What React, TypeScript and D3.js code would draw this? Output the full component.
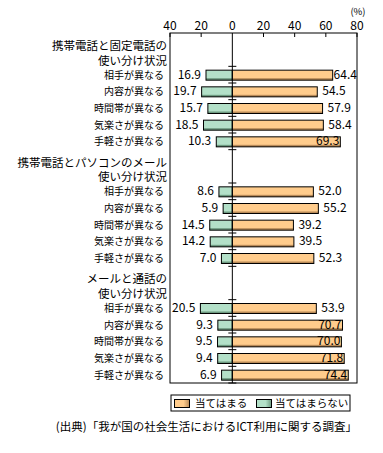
import React from "react";
import * as d3 from "d3";

const groupTitles: string[][] = [
  ["携帯電話と固定電話の", "使い分け状況"],
  ["携帯電話とパソコンのメール", "使い分け状況"],
  ["メールと通話の", "使い分け状況"],
];
const categories = ["相手が異なる", "内容が異なる", "時間帯が異なる", "気楽さが異なる", "手軽さが異なる"];
const applies: number[][] = [
  [64.4, 54.5, 57.9, 58.4, 69.3],
  [52.0, 55.2, 39.2, 39.5, 52.3],
  [53.9, 70.7, 70.0, 71.8, 74.4],
];
const notApplies: number[][] = [
  [16.9, 19.7, 15.7, 18.5, 10.3],
  [8.6, 5.9, 14.5, 14.2, 7.0],
  [20.5, 9.3, 9.5, 9.4, 6.9],
];
const xTicks = [-40, -20, 0, 20, 40, 60, 80];
const legendLabels = ["当てはまる", "当てはまらない"];
const unitLabel = "(%)";
const sourceText = "(出典)「我が国の社会生活におけるICT利用に関する調査」";

const FONT = "'Noto Sans CJK JP', 'Noto Sans', sans-serif";
const ORANGE = "#FFCC8C";
const ORANGE_DARK = "#B88A58";
const GREEN = "#B3E0C8";
const GREEN_DARK = "#6E9A80";

type Slot = { key: string; type: "h" | "b"; g: number; i: number };

export default function App() {
  const W = 383, H = 453;
  const left = 170, right = 357, top = 33, bottom = 383;

  const slots: Slot[] = [];
  groupTitles.forEach((_, g) => {
    slots.push({ key: `h${g}a`, type: "h", g, i: 0 });
    slots.push({ key: `h${g}b`, type: "h", g, i: 1 });
    categories.forEach((c, i) => slots.push({ key: `b${g}-${i}`, type: "b", g, i }));
  });

  const x = d3.scaleLinear().domain([-40, 80]).range([left, right]);
  const y = d3.scaleBand<string>().domain(slots.map((s) => s.key)).range([top, bottom]).paddingInner(0).paddingOuter(0);
  const bw = y.bandwidth();
  const barH = 10;
  const x0 = x(0);

  const charW = (s: string, fs: number) => s.length * fs * 0.56 - (s.includes(".") ? fs * 0.29 : 0);

  const boundaryTicks: number[] = [];
  slots.forEach((s) => {
    if (s.type === "b") {
      boundaryTicks.push(y(s.key)!);
      if (s.i === categories.length - 1) boundaryTicks.push(y(s.key)! + bw);
    }
  });

  return (
    <svg width={W} height={H} style={{ position: "absolute", left: 0, top: 0, background: "#fff" }} fontFamily={FONT}>
      <defs>
        <linearGradient id="gOr" x1="0" x2="1" y1="0" y2="0">
          <stop offset="0" stopColor={ORANGE} />
          <stop offset="0.6" stopColor={ORANGE} />
          <stop offset="1" stopColor={ORANGE_DARK} />
        </linearGradient>
        <linearGradient id="gGr" x1="0" x2="1" y1="0" y2="0">
          <stop offset="0" stopColor={GREEN} />
          <stop offset="0.6" stopColor={GREEN} />
          <stop offset="1" stopColor={GREEN_DARK} />
        </linearGradient>
      </defs>

      {/* axis tick labels */}
      {xTicks.map((t) => (
        <g key={t}>
          <text x={x(t)} y={top - 3} textAnchor="middle" fontSize={12} fill="#000">{Math.abs(t)}</text>
          {t !== 0 && <line x1={x(t)} x2={x(t)} y1={top} y2={top + 4} stroke="#000" />}
        </g>
      ))}
      <text x={358} y={15} textAnchor="middle" fontSize={9.5} fill="#000">{unitLabel}</text>

      {/* group headers */}
      {groupTitles.map((lines, g) => {
        const y0 = y(`h${g}a`)!;
        return (
          <g key={g}>
            <text x={167} y={y0 + 17} textAnchor="end" fontSize={11.5} fill="#000">{lines[0]}</text>
            <text x={167} y={y0 + 31.5} textAnchor="end" fontSize={11.5} fill="#000">{lines[1]}</text>
          </g>
        );
      })}

      {/* bars */}
      {slots.filter((s) => s.type === "b").map((s) => {
        const yc = y(s.key)! + bw / 2;
        const yb = yc - barH / 2 + 0.5;
        const pos = applies[s.g][s.i];
        const neg = notApplies[s.g][s.i];
        const xp = x(pos), xn = x(-neg);
        const fs = 12;
        const pl = pos.toFixed(1), nl = neg.toFixed(1);
        const pw = charW(pl, fs);
        const pStart = Math.min(xp + 5, right - pw);
        const inside = pStart < xp - 0.5;
        return (
          <g key={s.key}>
            <text x={164} y={yc + 4} textAnchor="end" fontSize={10} fill="#000">{categories[s.i]}</text>
            <rect x={xn} y={yb} width={x0 - xn} height={barH} fill={GREEN} />
            <rect x={xn} y={yb + barH - 2} width={x0 - xn} height={2} fill={GREEN_DARK} />
            <rect x={xn} y={yb} width={x0 - xn} height={barH} fill="none" stroke="#000" strokeWidth={1} />
            <rect x={x0} y={yb} width={xp - x0} height={barH} fill={ORANGE} />
            <rect x={x0} y={yb + barH - 2} width={xp - x0} height={2} fill={ORANGE_DARK} />
            <rect x={x0} y={yb} width={xp - x0} height={barH} fill="none" stroke="#000" strokeWidth={1} />
            <text x={xn - 5} y={yc + 4} textAnchor="end" fontSize={fs} fill="#000">{nl}</text>
            {inside ? (
              <text x={xp - 1} y={yc + 4} textAnchor="end" fontSize={fs} fill="#000">{pl}</text>
            ) : (
              <text x={pStart} y={yc + 4} textAnchor="start" fontSize={fs} fill="#000">{pl}</text>
            )}
          </g>
        );
      })}

      {/* zero line and ticks */}
      <line x1={x0} x2={x0} y1={top} y2={bottom} stroke="#000" />
      {boundaryTicks.map((b, k) => (
        <line key={k} x1={x0 - 4} x2={x0 + 4} y1={b} y2={b} stroke="#000" />
      ))}

      {/* frame */}
      <rect x={left} y={top} width={right - left} height={bottom - top} fill="none" stroke="#000" />

      {/* legend */}
      <rect x={171} y={395} width={179} height={16} fill="#fff" stroke="#000" />
      <rect x={174.5} y={399.5} width={15} height={8} fill="url(#gOr)" stroke="#000" />
      <text x={195} y={407} fontSize={10.5} fill="#000">{legendLabels[0]}</text>
      <rect x={256.5} y={399.5} width={15} height={8} fill="url(#gGr)" stroke="#000" />
      <text x={275} y={407} fontSize={10.5} fill="#000">{legendLabels[1]}</text>

      {/* source */}
      <text x={357} y={431} textAnchor="end" fontSize={11.5} fill="#000">{sourceText}</text>
    </svg>
  );
}
